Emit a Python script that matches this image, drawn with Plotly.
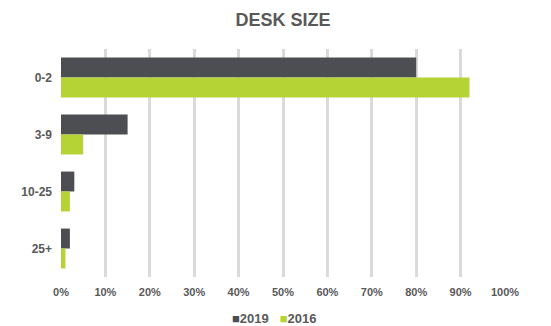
import plotly.graph_objects as go

# Desk size distribution by survey year (share of respondents)
categories = ["0-2", "3-9", "10-25", "25+"]
values_2019 = [80, 15, 3, 2]
values_2016 = [92, 5, 2, 1]
x_ticks = [0, 10, 20, 30, 40, 50, 60, 70, 80, 90, 100]
x_tick_labels = [f"{t}%" for t in x_ticks]
series_names = ["2019", "2016"]

DARK = "#4d4e52"
GREEN = "#b5d334"
TEXT = "#595959"
GRID = "#dadada"

fig = go.Figure()
fig.add_trace(go.Bar(
    name=series_names[0], y=categories, x=values_2019, orientation="h",
    marker=dict(color=DARK, line=dict(width=0)),
))
fig.add_trace(go.Bar(
    name=series_names[1], y=categories, x=values_2016, orientation="h",
    marker=dict(color=GREEN, line=dict(width=0)),
))

# compact legend: coloured square glyph followed by the series name
legend_text = (
    f"<span style='color:{DARK}'>■</span>{series_names[0]}"
    f"&nbsp;&nbsp;&nbsp;<span style='color:{GREEN}'>■</span>{series_names[1]}"
)

fig.update_layout(
    width=551, height=326,
    margin=dict(l=61, r=46, t=49, b=49),
    paper_bgcolor="white", plot_bgcolor="white",
    barmode="group", bargap=0.3, bargroupgap=0,
    font=dict(family="Liberation Sans, Arial, sans-serif", size=11, color=TEXT, weight="bold"),
    title=dict(
        text="DESK SIZE", x=0.5, xref="paper", xanchor="center",
        y=1 - 20 / 326, yref="container", yanchor="middle",
        font=dict(size=18, color=TEXT, weight="bold"),
    ),
    showlegend=False,
    annotations=[dict(
        text=legend_text, xref="paper", x=0.48, xanchor="center",
        yref="paper", y=-41 / 228, yanchor="middle", showarrow=False,
        font=dict(size=13, color=TEXT, weight="bold"),
    )],
    xaxis=dict(
        range=[0, 100], tickvals=x_ticks, ticktext=x_tick_labels,
        showgrid=True, gridcolor=GRID, gridwidth=3,
        zeroline=False, showline=False, ticks="", ticklen=0,
        ticklabelstandoff=7, tickfont=dict(size=11, color=TEXT),
    ),
    yaxis=dict(
        autorange="reversed", showgrid=False, zeroline=False, showline=False,
        ticks="", ticklabelstandoff=8, tickfont=dict(size=12, color=TEXT),
    ),
)

fig.write_html("out.html")
